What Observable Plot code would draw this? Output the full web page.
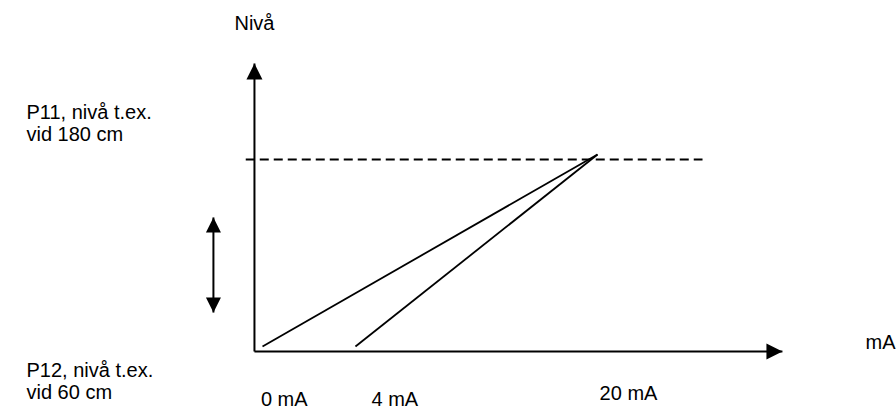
<!DOCTYPE html>
<html>
<head>
<meta charset="utf-8">
<script src="https://cdn.jsdelivr.net/npm/d3@7"></script>
<script src="https://cdn.jsdelivr.net/npm/@observablehq/plot@0.6"></script>
<style>
  html, body { margin: 0; padding: 0; background: #fff; }
  #chart { width: 896px; height: 410px; overflow: hidden; }
</style>
</head>
<body>
<div id="chart"></div>
<script>
// ---- Data (schematic units: x in mA, y in level cm) ----
const lineStartMA = [0, 5.55];           // where each current line begins on the axis
const lineStartLevel = [60, 60];
const lineEndMA = 20;                    // both lines meet at 20 mA
const lineEndLevel = 183.2;

const highLevel = 180;                   // dashed line P11
const dashFromMA = -1.0;
const dashToMA = 26.27;

const originMA = -0.48;                  // axis origin
const originLevel = 56.8;
const xAxisTipMA = 31.04;
const yAxisTipLevel = 241.6;

const rangeArrowMA = -2.93;              // double-headed arrow
const rangeArrowTop = 142.8;
const rangeArrowBottom = 81.8;

const tickLabels = ["0 mA", "4 mA", "20 mA"];
const tickLabelMA = [1.3, 7.9, 21.85];
const tickLabelLevel = [25.8, 25.8, 29.5];

const levelLabels = ["P11, nivå t.ex.\nvid 180 cm", "P12, nivå t.ex.\nvid 60 cm"];
const levelLabelMA = [-14.09, -14.09];
const levelLabelLevel = [203.5, 37.8];

const yTitle = "Nivå";
const yTitlePos = {x: -0.48, y: 266.9};
const xTitle = "mA";
const xTitlePos = {x: 36.0, y: 62.8};

// ---- arrowhead symbols (tip at origin) ----
function head(dir) {
  return {
    draw(ctx, size) {
      const r = Math.sqrt(size / Math.PI);
      const pts = {
        up:    [[0, 0], [r, 2 * r], [-r, 2 * r]],
        down:  [[0, 0], [r, -2 * r], [-r, -2 * r]],
        right: [[0, 0], [-2 * r, -r], [-2 * r, r]]
      }[dir];
      ctx.moveTo(pts[0][0], pts[0][1]);
      ctx.lineTo(pts[1][0], pts[1][1]);
      ctx.lineTo(pts[2][0], pts[2][1]);
      ctx.closePath();
    }
  };
}

const currentLines = lineStartMA.map((x, i) => ({x1: x, y1: lineStartLevel[i], x2: lineEndMA, y2: lineEndLevel}));
const axes = [
  {x1: originMA, y1: originLevel, x2: originMA, y2: yAxisTipLevel},
  {x1: originMA, y1: originLevel, x2: xAxisTipMA, y2: originLevel}
];
const ticks = tickLabels.map((t, i) => ({t, x: tickLabelMA[i], y: tickLabelLevel[i]}));
const levels = levelLabels.map((t, i) => ({t, x: levelLabelMA[i], y: levelLabelLevel[i]}));

const font = "'Liberation Sans', Arial, sans-serif";

const chart = Plot.plot({
  width: 896,
  height: 410,
  margin: 0,
  x: {type: "linear", domain: [0, 20], range: [262, 597], axis: null},
  y: {type: "linear", domain: [60, 180], range: [346, 159], axis: null},
  style: {fontFamily: font, background: "#fff", color: "#000"},
  marks: [
    // dashed P11 level
    Plot.link([{x1: dashFromMA, x2: dashToMA, y: highLevel}], {
      x1: "x1", x2: "x2", y1: "y", y2: "y",
      stroke: "#000", strokeWidth: 2, strokeDasharray: "9,5"
    }),
    // axes
    Plot.link(axes, {x1: "x1", y1: "y1", x2: "x2", y2: "y2", stroke: "#000", strokeWidth: 2}),
    Plot.dot([{x: originMA, y: yAxisTipLevel}], {x: "x", y: "y", symbol: head("up"), r: 8, fill: "#000", stroke: "none"}),
    Plot.dot([{x: xAxisTipMA, y: originLevel}], {x: "x", y: "y", symbol: head("right"), r: 8, fill: "#000", stroke: "none"}),
    // current lines
    Plot.link(currentLines, {x1: "x1", y1: "y1", x2: "x2", y2: "y2", stroke: "#000", strokeWidth: 1.8}),
    // double-headed arrow
    Plot.link([{x: rangeArrowMA, y1: rangeArrowTop, y2: rangeArrowBottom}], {
      x1: "x", x2: "x", y1: "y1", y2: "y2", stroke: "#000", strokeWidth: 2
    }),
    Plot.dot([{x: rangeArrowMA, y: rangeArrowTop}], {x: "x", y: "y", symbol: head("up"), r: 7.5, fill: "#000", stroke: "none"}),
    Plot.dot([{x: rangeArrowMA, y: rangeArrowBottom}], {x: "x", y: "y", symbol: head("down"), r: 7.5, fill: "#000", stroke: "none"}),
    // texts
    Plot.text(ticks, {x: "x", y: "y", text: "t", textAnchor: "middle", lineAnchor: "middle", fontSize: 20, fill: "#000"}),
    Plot.text(levels, {x: "x", y: "y", text: "t", textAnchor: "start", lineAnchor: "middle", lineHeight: 1.1, fontSize: 20, fill: "#000"}),
    Plot.text([yTitlePos], {x: "x", y: "y", text: () => yTitle, textAnchor: "middle", lineAnchor: "middle", fontSize: 20, fill: "#000"}),
    Plot.text([xTitlePos], {x: "x", y: "y", text: () => xTitle, textAnchor: "start", lineAnchor: "middle", fontSize: 20, fill: "#000"})
  ]
});
document.getElementById("chart").appendChild(chart);
</script>
</body>
</html>
